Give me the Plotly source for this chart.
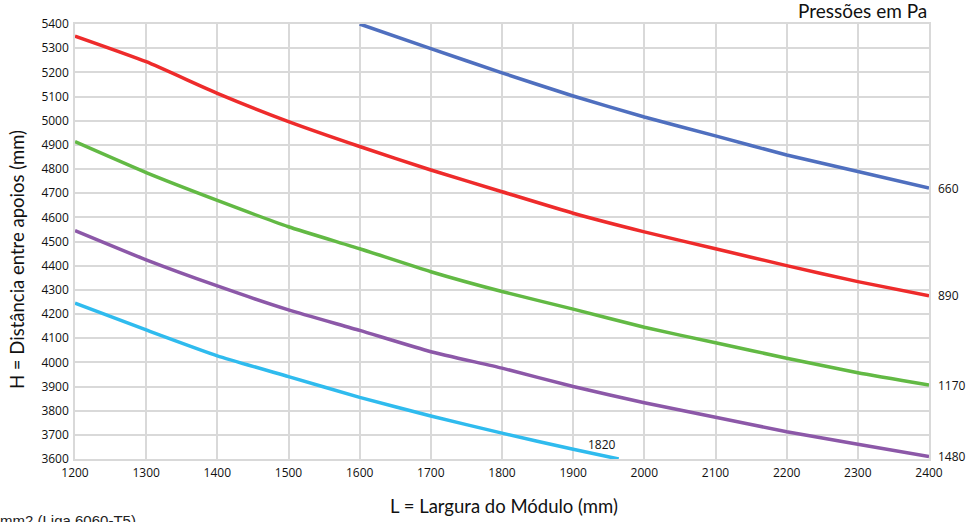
import plotly.graph_objects as go

x_full = [1200, 1300, 1400, 1500, 1600, 1700, 1800, 1900, 2000, 2100, 2200, 2300, 2400]

x_660 = [1600, 1700, 1800, 1900, 2000, 2100, 2200, 2300, 2400]
h_660 = [5400, 5298, 5198, 5102, 5015, 4937, 4858, 4790, 4721]

h_890 = [5350, 5244, 5113, 4996, 4893, 4796, 4706, 4617, 4540, 4470, 4400, 4334, 4275]
h_1170 = [4913, 4785, 4670, 4561, 4470, 4375, 4293, 4220, 4145, 4081, 4017, 3957, 3906]
h_1480 = [4545, 4424, 4316, 4217, 4132, 4044, 3976, 3900, 3833, 3773, 3713, 3661, 3610]

x_1820 = [1200, 1300, 1400, 1500, 1600, 1700, 1800, 1900, 1964]
h_1820 = [4245, 4134, 4027, 3941, 3855, 3778, 3707, 3640, 3600]

series = [
    ("660", x_660, h_660, "#4f6fbf"),
    ("890", x_full, h_890, "#ee2b2b"),
    ("1170", x_full, h_1170, "#62b944"),
    ("1480", x_full, h_1480, "#8c58a8"),
    ("1820", x_1820, h_1820, "#2fbbee"),
]

fig = go.Figure()
for name, xs, ys, col in series:
    fig.add_trace(go.Scatter(
        x=xs, y=ys, mode="lines", name=name,
        line=dict(color=col, width=3.5, shape="spline", smoothing=0.5),
        showlegend=False, hoverinfo="x+y",
    ))

num_font = dict(family="'Open Sans', sans-serif", size=12, color="#111")
title_font = dict(family="Lato, 'Open Sans', sans-serif", size=18.5, color="#111")
for name, xs, ys, col in series[:4]:
    fig.add_annotation(x=xs[-1], y=ys[-1], text=name, showarrow=False,
                       xanchor="left", yanchor="middle", xshift=7, font=num_font)
fig.add_annotation(x=x_1820[-1], y=h_1820[-1], text="1820", showarrow=False,
                   xanchor="right", yanchor="bottom", xshift=-1, yshift=4, font=num_font)

fig.add_annotation(xref="paper", yref="paper", x=1.0, y=1.0, yshift=0,
                   text="Pressões em Pa", showarrow=False, xanchor="right", yanchor="bottom",
                   font=dict(family="Lato, 'Open Sans', sans-serif", size=19, color="#111"))

# axis titles
fig.add_annotation(xref="paper", yref="paper", x=0.502, y=-0.108,
                   text="L = Largura do Módulo (mm)", showarrow=False,
                   xanchor="center", yanchor="middle", font=title_font)
fig.add_annotation(xref="paper", yref="paper", x=-0.0679, y=0.4575,
                   text="H = Distância entre apoios (mm)", showarrow=False, textangle=-90,
                   xanchor="center", yanchor="middle", font=title_font)

fig.add_annotation(xref="paper", yref="paper", x=0.0738, y=-0.118,
                   text="mm2 (Liga 6060-T5)", showarrow=False, xanchor="right", yanchor="top",
                   font=dict(family="Liberation Sans, Arial, sans-serif", size=15, color="#222"))

grid = "#d9d9d9"
fig.update_xaxes(range=[1200, 2400], dtick=100, tick0=1200, showgrid=True, gridcolor=grid,
                 gridwidth=1.5, showline=True, linecolor=grid, linewidth=1.5, mirror=True,
                 zeroline=False, ticks="", tickfont=num_font, ticklabelstandoff=2)
fig.update_yaxes(range=[3600, 5400], dtick=100, tick0=3600, showgrid=True, gridcolor=grid,
                 gridwidth=1.5, showline=True, linecolor=grid, linewidth=1.5, mirror=True,
                 zeroline=False, ticks="", tickfont=num_font, ticklabelstandoff=2)

fig.update_layout(width=969, height=522, margin=dict(l=75, r=40, t=24, b=63),
                  paper_bgcolor="white", plot_bgcolor="white")

fig.write_html("out.html", config={"displayModeBar": False},
               post_script="document.body.style.margin='0';document.body.style.overflow='hidden';")
